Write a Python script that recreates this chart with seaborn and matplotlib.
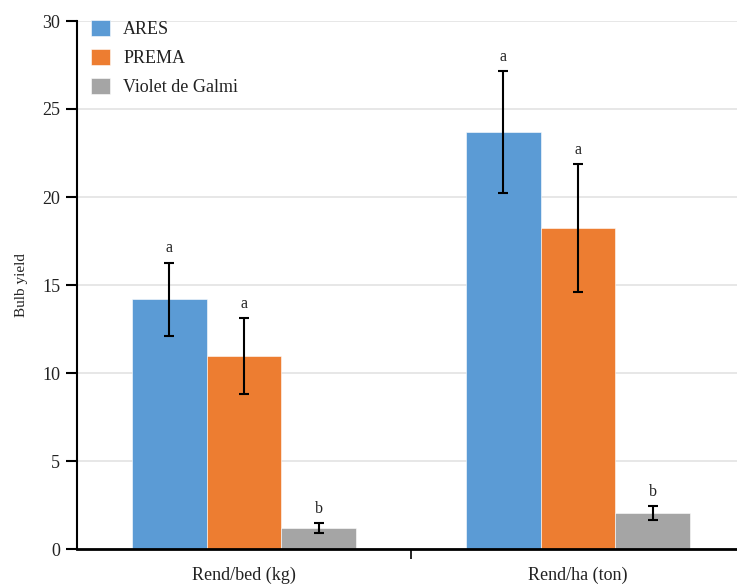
import matplotlib
matplotlib.use("Agg")
import matplotlib.pyplot as plt
import seaborn as sns
import pandas as pd
import numpy as np

categories = ["Rend/bed (kg)", "Rend/ha (ton)"]
varieties = ["ARES", "PREMA", "Violet de Galmi"]
ares = [14.2, 23.7]
prema = [10.97, 18.24]
violet = [1.19, 2.05]
ares_err = [2.07, 3.47]
prema_err = [2.15, 3.64]
violet_err = [0.28, 0.40]
ares_sig = ["a", "a"]
prema_sig = ["a", "a"]
violet_sig = ["b", "b"]
colors = ["#5B9BD5", "#ED7D31", "#A5A5A5"]
yticks = [0, 5, 10, 15, 20, 25, 30]

sns.set_theme(style="white")
plt.rcParams["font.family"] = ["Liberation Serif", "DejaVu Serif"]

df = pd.DataFrame({
    "category": categories * 3,
    "variety": [v for v in varieties for _ in categories],
    "value": ares + prema + violet,
})
errs = [ares_err, prema_err, violet_err]
sigs = [ares_sig, prema_sig, violet_sig]

fig = plt.figure(figsize=(7.37, 5.85), dpi=100)
ax = fig.add_axes([77 / 737, 36 / 585, 668 / 737, 528 / 585])

sns.barplot(data=df, x="category", y="value", hue="variety", order=categories,
            hue_order=varieties, palette=colors, width=0.67, gap=0,
            edgecolor="white", linewidth=0.4, ax=ax, errorbar=None, saturation=1)

for cont, err, sig in zip(ax.containers, errs, sigs):
    xs = [p.get_x() + p.get_width() / 2 for p in cont.patches]
    hs = [p.get_height() for p in cont.patches]
    ax.errorbar(xs, hs, yerr=err, fmt="none", ecolor="black", elinewidth=1.5,
                capsize=3.6, capthick=1.5, zorder=5)
    for x, h, e, s in zip(xs, hs, err, sig):
        ax.text(x, h + e + 0.35, s, ha="center", va="bottom", fontsize=11.5, color="#222222")

ax.set_ylim(0, 30)
ax.set_xlim(-0.5, 1.5)
ax.set_yticks(yticks)
ax.set_yticklabels([str(t) for t in yticks], fontsize=13, color="#222222")
ax.yaxis.grid(True, color="#E3E3E3", linewidth=1.2)
ax.set_axisbelow(True)

ax.set_xticks([0.5])
ax.set_xticklabels([""])
ax.set_xticks([0, 1], minor=True)
ax.set_xticklabels(categories, minor=True, fontsize=13, color="#222222")
ax.tick_params(axis="x", which="major", direction="out", length=7, width=1.2, color="black", bottom=True)
ax.tick_params(axis="x", which="minor", length=0, pad=13)
ax.tick_params(axis="y", direction="out", length=8, width=1.5, color="black", left=True, pad=4)

for s in ["top", "right"]:
    ax.spines[s].set_visible(False)
ax.spines["left"].set_color("black")
ax.spines["left"].set_linewidth(1.5)
ax.spines["bottom"].set_color("black")
ax.spines["bottom"].set_linewidth(2)

ax.set_xlabel("")
ax.set_ylabel("Bulb yield", fontsize=11, color="#222222", labelpad=10)

leg = ax.legend(loc="upper left", frameon=False, fontsize=13, handlelength=1.0,
                handleheight=1.0, handletextpad=0.75, labelspacing=0.6,
                bbox_to_anchor=(0.0, 1.03), borderaxespad=0.4)
for t in leg.get_texts():
    t.set_color("#222222")

fig.savefig("out.png", dpi=100)
